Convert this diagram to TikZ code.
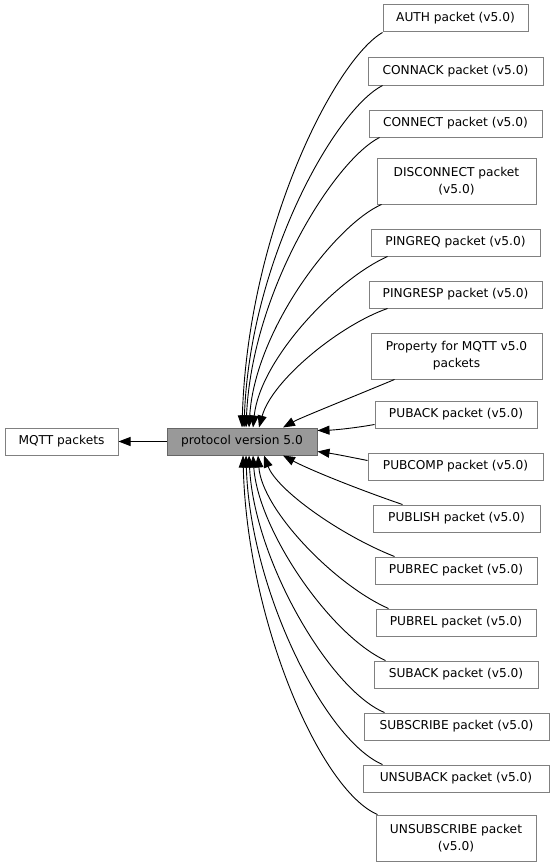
\documentclass[tikz,border=0pt]{standalone}
\usepackage{fontspec}
\setmainfont{DejaVu Sans}
\usetikzlibrary{arrows.meta}

\definecolor{boxline}{HTML}{808080}
\definecolor{curfill}{HTML}{999999}
\definecolor{curline}{HTML}{666666}

\begin{document}
\begin{tikzpicture}[x=1pt,y=-1pt]
  \tikzset{GRP/.style={draw=boxline, line width=1pt, fill=white, inner sep=0pt, minimum height=27pt, align=center, font=\fontsize{12.2}{17}\selectfont} }
  \tikzset{CUR/.style={GRP, draw=curline, fill=curfill} }
  \tikzset{DEP/.style={-{Triangle[length=12pt,width=9pt]}, line width=0.9pt} }

  \useasboundingbox (0,0) rectangle (555,867);

  \node[GRP, minimum width=113pt] (mqtt)  at ( 61.5,441.5) {MQTT packets};
  \node[CUR, minimum width=150pt] (proto) at (242.0,441.5) {protocol version 5.0};

  \node[GRP, minimum width=145pt] (auth)        at (455.5, 18.5) {AUTH packet (v5.0)};
  \node[GRP, minimum width=175pt] (connack)     at (455.5, 71.5) {CONNACK packet (v5.0)};
  \node[GRP, minimum width=173pt] (connect)     at (455.5,123.5) {CONNECT packet (v5.0)};
  \node[GRP, minimum width=159pt, minimum height=46pt] (disconnect) at (456.5,181.0) {DISCONNECT packet\\(v5.0)};
  \node[GRP, minimum width=169pt] (pingreq)     at (455.5,242.5) {PINGREQ packet (v5.0)};
  \node[GRP, minimum width=173pt] (pingresp)    at (455.5,294.5) {PINGRESP packet (v5.0)};
  \node[GRP, minimum width=171pt, minimum height=46pt] (property) at (456.5,356.0) {Property for MQTT v5.0\\packets};
  \node[GRP, minimum width=162pt] (puback)      at (456.0,414.5) {PUBACK packet (v5.0)};
  \node[GRP, minimum width=175pt] (pubcomp)     at (455.5,466.5) {PUBCOMP packet (v5.0)};
  \node[GRP, minimum width=167pt] (publish)     at (456.5,518.5) {PUBLISH packet (v5.0)};
  \node[GRP, minimum width=162pt] (pubrec)      at (456.0,570.5) {PUBREC packet (v5.0)};
  \node[GRP, minimum width=160pt] (pubrel)      at (456.0,622.5) {PUBREL packet (v5.0)};
  \node[GRP, minimum width=164pt] (suback)      at (456.0,674.5) {SUBACK packet (v5.0)};
  \node[GRP, minimum width=185pt] (subscribe)   at (456.5,726.5) {SUBSCRIBE packet (v5.0)};
  \node[GRP, minimum width=186pt] (unsuback)    at (456.0,778.5) {UNSUBACK packet (v5.0)};
  \node[GRP, minimum width=160pt, minimum height=46pt] (unsubscribe) at (456.0,838.0) {UNSUBSCRIBE packet\\(v5.0)};

  \draw[DEP] (proto) -- (mqtt);

  % upper group, into the top of the current node
  \draw[DEP] (auth.south west) .. controls (335,60) and (248,230) .. ([xshift=0]proto.north);
  \draw[DEP] ([xshift=15]connack.south west) .. controls (335,110) and (250,260) .. ([xshift=2]proto.north);
  \draw[DEP] ([xshift=11]connect.south west) .. controls (335,160) and (252,290) .. ([xshift=4]proto.north);
  \draw[DEP] ([xshift=5]disconnect.south west) .. controls (335,225) and (255,330) .. ([xshift=7]proto.north);
  \draw[DEP] ([xshift=17]pingreq.south west) .. controls (335,280) and (260,360) .. ([xshift=11]proto.north);
  \draw[DEP] ([xshift=19]pingresp.south west) .. controls (340,325) and (272,380) .. ([xshift=17]proto.north);
  \draw[DEP] ([xshift=24]property.south west) .. controls (350,398) and (300,418) .. ([xshift=41]proto.north);

  % side
  \draw[DEP] ([yshift=-10]puback.west) .. controls (355,428) and (335,430) .. ([yshift=11]proto.east);
  \draw[DEP] ([yshift=6]pubcomp.west) .. controls (350,457) and (335,454) .. ([yshift=-10]proto.east);

  % lower group, into the bottom
  \draw[DEP] ([xshift=30]publish.north west) .. controls (360,490) and (310,470) .. ([xshift=41]proto.south);
  \draw[DEP] ([xshift=20]pubrec.north west) .. controls (340,535) and (277,490) .. ([xshift=22]proto.south);
  \draw[DEP] ([xshift=13]pubrel.north west) .. controls (335,585) and (262,510) .. ([xshift=16]proto.south);
  \draw[DEP] ([xshift=12]suback.north west) .. controls (330,635) and (258,530) .. ([xshift=11]proto.south);
  \draw[DEP] ([xshift=21]subscribe.north west) .. controls (330,690) and (254,560) .. ([xshift=7]proto.south);
  \draw[DEP] ([xshift=20]unsuback.north west) .. controls (325,740) and (250,590) .. ([xshift=4]proto.south);
  \draw[DEP] ([xshift=2]unsubscribe.north west) .. controls (320,790) and (247,620) .. ([xshift=1]proto.south);
\end{tikzpicture}
\end{document}
